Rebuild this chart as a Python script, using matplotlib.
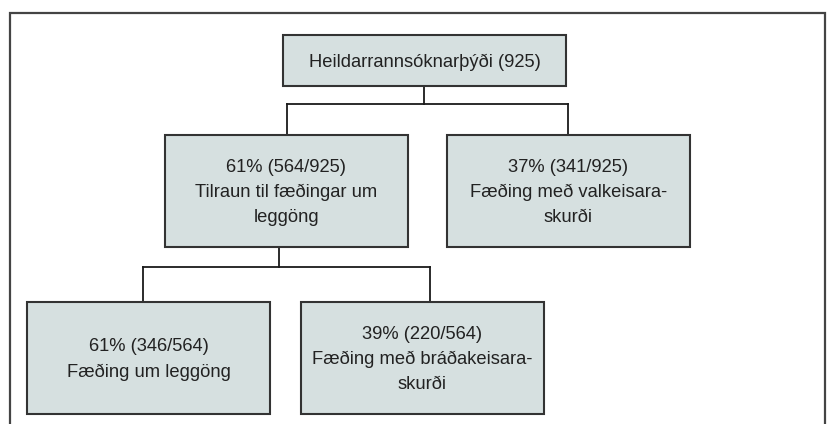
import matplotlib
matplotlib.use("Agg")
import matplotlib.pyplot as plt
from matplotlib.patches import Rectangle

# --- data ---
labels = [
    "Heildarrannsóknarþýði (925)",
    "61% (564/925)\nTilraun til fæðingar um\nleggöng",
    "37% (341/925)\nFæðing með valkeisara-\nskurði",
    "61% (346/564)\nFæðing um leggöng",
    "39% (220/564)\nFæðing með bráðakeisara-\nskurði",
]

# --- layout (pixel coords: x0, y0, x1, y1) ---
boxes = [
    (283, 35, 566, 86),
    (165, 135, 408, 247),
    (447, 135, 690, 247),
    (27, 302, 270, 414),
    (301, 302, 544, 414),
]

W, H = 827, 424
fig = plt.figure(figsize=(W / 100, H / 100), dpi=100)
ax = fig.add_axes([0, 0, 1, 1])
ax.set_xlim(0, W)
ax.set_ylim(H, 0)
ax.axis("off")

fill = "#d6e0e0"
edge = "#333333"
lc = "#1a1a1a"

# outer frame
ax.plot([10, 10, 825, 825], [430, 13, 13, 430], color="#444444", lw=1.6, solid_joinstyle="miter")

# connectors
ax.plot([424, 424], [86, 104], color=lc, lw=1.3)
ax.plot([287, 568], [104, 104], color=lc, lw=1.3)
ax.plot([287, 287], [104, 135], color=lc, lw=1.3)
ax.plot([568, 568], [104, 135], color=lc, lw=1.3)
ax.plot([279, 279], [247, 267], color=lc, lw=1.3)
ax.plot([143, 430], [267, 267], color=lc, lw=1.3)
ax.plot([143, 143], [267, 302], color=lc, lw=1.3)
ax.plot([430, 430], [267, 302], color=lc, lw=1.3)

for (x0, y0, x1, y1), lab in zip(boxes, labels):
    ax.add_patch(Rectangle((x0, y0), x1 - x0, y1 - y0, facecolor=fill,
                           edgecolor=edge, lw=1.5, zorder=3))
    ax.text((x0 + x1) / 2, (y0 + y1) / 2 + 1.5, lab, ha="center", va="center",
            fontsize=13.2, family="Liberation Sans", color="#222222",
            linespacing=1.63, zorder=4)

fig.savefig("out.png", dpi=100)
